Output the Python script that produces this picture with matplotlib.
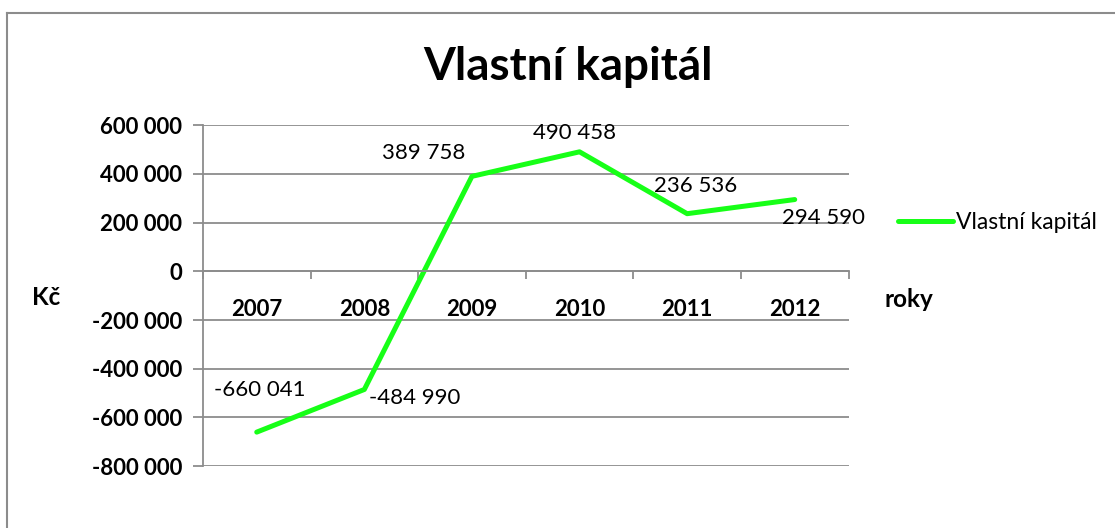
import matplotlib.pyplot as plt
from matplotlib.lines import Line2D
from matplotlib.ticker import FuncFormatter

plt.rcParams['font.family'] = ['Lato', 'DejaVu Sans']

roky = ['2007', '2008', '2009', '2010', '2011', '2012']
kapital = [-660041, -484990, 389758, 490458, 236536, 294590]
# label offsets in pixels (dx, dy) relative to each point
offsets = [(3, 42), (50, -9), (-48, 23), (-5, 19), (9, 28), (29, -18)]

green = '#17FF17'
grey = '#8C8C8C'


def fmt(v):
    return f'{int(v):,}'.replace(',', ' ')


fig = plt.figure(figsize=(11.15, 5.28), dpi=100)
ax = fig.add_axes([0.182, 0.117, 0.579, 0.646])

x = list(range(len(roky)))
ax.plot(x, kapital, color=green, lw=3.6, solid_capstyle='round', label='Vlastní kapitál')

for xi, v, (dx, dy) in zip(x, kapital, offsets):
    ax.annotate(fmt(v), (xi, v), xytext=(dx, dy), textcoords='offset pixels',
                ha='center', va='center', fontsize=16)

ax.set_xlim(-0.5, len(roky) - 0.5)
ax.set_ylim(-800000, 600000)
ax.set_yticks(range(-800000, 600001, 200000))
ax.yaxis.set_major_formatter(FuncFormatter(lambda v, p: fmt(v)))
ax.grid(axis='y', color=grey, lw=1.3)
ax.set_axisbelow(True)

for s in ['top', 'right']:
    ax.spines[s].set_visible(False)
ax.spines['left'].set_color(grey)
ax.spines['left'].set_linewidth(1.3)
ax.spines['bottom'].set_position(('data', 0))
ax.spines['bottom'].set_color(grey)
ax.spines['bottom'].set_linewidth(1.3)

ax.set_xticks(x)
ax.set_xticklabels(roky, fontweight='bold', fontsize=16)
ax.set_xticks([i - 0.5 for i in range(len(roky) + 1)], minor=True)
ax.tick_params(axis='x', which='major', length=0, pad=20)
ax.tick_params(axis='x', which='minor', length=6, color=grey, width=1.3, direction='out')
ax.tick_params(axis='y', length=7, color=grey, width=1.3, direction='out', pad=8, labelsize=16)
for lbl in ax.get_yticklabels():
    lbl.set_fontweight('bold')

fig.text(0.509, 0.873, 'Vlastní kapitál', ha='center', va='center', fontsize=33, fontweight='bold')
fig.text(0.041, 0.437, 'Kč', ha='center', va='center', fontsize=17.5, fontweight='bold')
fig.text(0.815, 0.432, 'roky', ha='center', va='center', fontsize=17.5, fontweight='bold')

handle = Line2D([], [], color=green, lw=3.6, solid_capstyle='round')
fig.legend([handle], ['Vlastní kapitál'], loc='center left', bbox_to_anchor=(0.805, 0.578),
           frameon=False, fontsize=16.5, handlelength=2.4, handletextpad=0.15,
           borderpad=0, borderaxespad=0)

# border on the top and left only (the rest is cut off in the original)
fig.add_artist(Line2D([0.0063, 1.0], [0.975, 0.975], transform=fig.transFigure, color=grey, lw=1.5))
fig.add_artist(Line2D([0.0063, 0.0063], [0.0, 0.975], transform=fig.transFigure, color=grey, lw=1.5))

fig.savefig('out.png', dpi=100)
